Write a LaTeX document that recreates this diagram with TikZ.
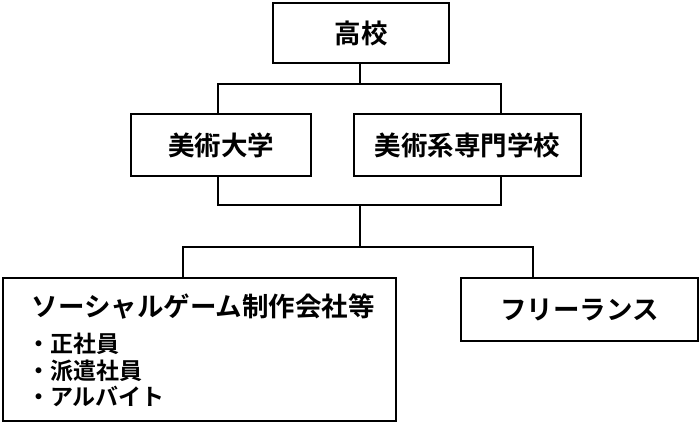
\documentclass[tikz,border=0pt]{standalone}
\usepackage{fontspec}
\newfontfamily\jpf{Noto Sans CJK JP Bold}
\begin{document}
\begin{tikzpicture}[x=1pt,y=-1pt,
  box/.style={draw=black,line width=2pt,fill=white,inner sep=0pt,anchor=north west},
  lbl/.style={font=\jpf\fontsize{26.5}{30}\selectfont},
  conn/.style={draw=black,line width=2pt,line cap=rect}]
\useasboundingbox (0,0) rectangle (700,422);
% boxes
\node[box,minimum width=176pt,minimum height=60pt] (hs) at (272,2) {};
\node[lbl] at (hs.center) {高校};
\node[box,minimum width=180pt,minimum height=62pt] (univ) at (130,113) {};
\node[lbl] at (univ.center) {美術大学};
\node[box,minimum width=227pt,minimum height=62pt] (senmon) at (353,113) {};
\node[lbl] at (senmon.center) {美術系専門学校};
\node[box,minimum width=393pt,minimum height=143pt] (corp) at (2,277) {};
\node[lbl,anchor=west] (corpt) at (28,307) {ソーシャルゲーム制作会社等};
\node[anchor=north west,inner sep=0pt,align=left,font=\jpf\fontsize{23}{26.5}\selectfont] (list) at (27,333) {・正社員\\・派遣社員\\・アルバイト};
\node[box,minimum width=237pt,minimum height=63pt] (free) at (460,277) {};
\node[lbl] at (free.center) {フリーランス};
% connectors
\coordinate (j1) at (360,84);
\coordinate (j2) at (360,205);
\coordinate (j3) at (360,247);
\coordinate (ul) at (218,0);
\coordinate (ur) at (501,0);
\draw[conn] (hs.south -| j1) -- (j1);
\draw[conn] (ul |- univ.north) |- (j1) -| (ur |- senmon.north);
\draw[conn] (ul |- univ.south) |- (j2) -| (ur |- senmon.south);
\draw[conn] (j2) -- (j3);
\draw[conn] ([xshift=-177pt]j3) coordinate (l) -- ([xshift=173pt]j3) coordinate (r);
\draw[conn] (l) -- (l |- corp.north);
\draw[conn] (r) -- (r |- free.north);
\end{tikzpicture}
\end{document}
